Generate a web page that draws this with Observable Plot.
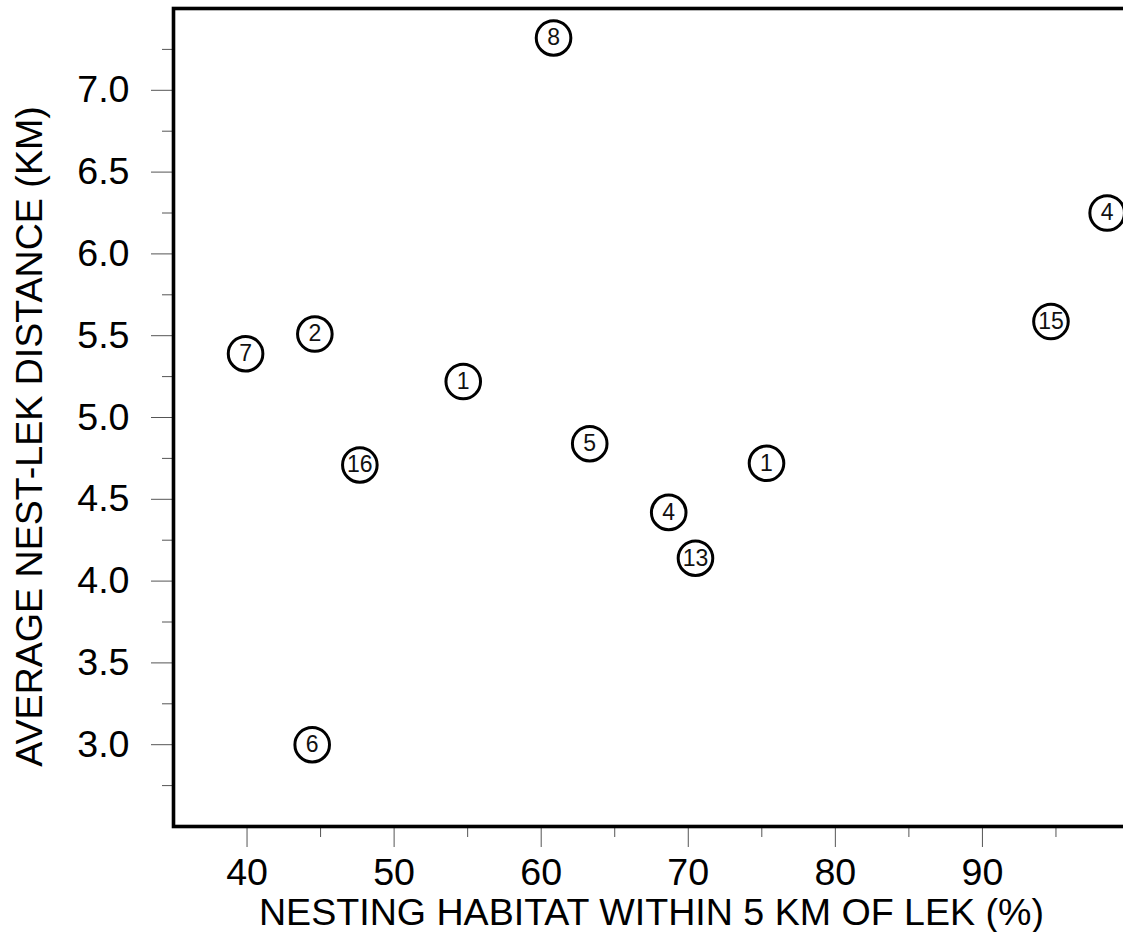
<!DOCTYPE html>
<html>
<head>
<meta charset="utf-8">
<script src="https://cdn.jsdelivr.net/npm/d3@7"></script>
<script src="https://cdn.jsdelivr.net/npm/@observablehq/plot@0.6"></script>
<style>
html, body { margin: 0; padding: 0; background: #fff; overflow: hidden; }
#chart { width: 1123px; height: 932px; overflow: hidden; }
#chart svg { max-width: none !important; }
</style>
</head>
<body>
<div id="chart"></div>
<script>
// Data
const habitat  = [60.84, 98.48, 94.66, 39.9, 44.61, 47.67, 54.7, 63.3, 75.32, 68.67, 70.49, 44.43];
const distance = [7.32, 6.25, 5.587, 5.39, 5.51, 4.71, 5.22, 4.84, 4.72, 4.42, 4.14, 3.0];
const counts   = [8, 4, 15, 7, 2, 16, 1, 5, 1, 4, 13, 6];

const xMajor = [40, 50, 60, 70, 80, 90];
const xMinor = [45, 55, 65, 75, 85, 95];
const yMajor = [3.0, 3.5, 4.0, 4.5, 5.0, 5.5, 6.0, 6.5, 7.0];
const yMinor = [2.75, 3.25, 3.75, 4.25, 4.75, 5.25, 5.75, 6.25, 6.75, 7.25];

const xTitle = "NESTING HABITAT WITHIN 5 KM OF LEK (%)";
const yTitle = "AVERAGE NEST-LEK DISTANCE (KM)";

const data = habitat.map((h, i) => ({habitat: h, distance: distance[i], n: counts[i]}));

const font = "'Liberation Sans', Arial, Helvetica, sans-serif";
const tickColor = "#555";

const chart = Plot.plot({
  width: 1135,
  height: 932,
  marginLeft: 173,
  marginRight: 6,
  marginTop: 8,
  marginBottom: 106,
  style: {fontFamily: font, fontSize: "37.6px", color: "#000", background: "#fff", maxWidth: "none"},
  x: {domain: [35, 100]},
  y: {domain: [2.5, 7.5]},
  marks: [
    Plot.axisX({ticks: xMajor, tickSize: 21, tickPadding: 11, tickFormat: d => String(d), label: null, stroke: tickColor, fontSize: 37.6, fill: "#000"}),
    Plot.axisX({ticks: xMinor, tickSize: 11, tickFormat: () => "", label: null, stroke: tickColor}),
    Plot.axisY({ticks: yMajor, tickSize: 22, tickPadding: 22, tickFormat: d3.format(".1f"), label: null, stroke: tickColor, fontSize: 37.6, fill: "#000"}),
    Plot.axisY({ticks: yMinor, tickSize: 11, tickFormat: () => "", label: null, stroke: tickColor}),
    Plot.dot(data, {x: "habitat", y: "distance", r: 17.3, stroke: "#000", strokeWidth: 3, fill: "#fff"}),
    Plot.text(data, {x: "habitat", y: "distance", text: "n", fontSize: 23, fill: "#111"}),
    Plot.text([xTitle], {frameAnchor: "bottom", lineAnchor: "middle", textAnchor: "middle", dy: 86, fontSize: 37.6, fill: "#000"}),
    Plot.text([yTitle], {frameAnchor: "left", lineAnchor: "middle", textAnchor: "middle", rotate: -90, dx: -144, dy: 19, fontSize: 37.6, fill: "#000"}),
    Plot.frame({stroke: "#000", strokeWidth: 3.6})
  ]
});

document.getElementById("chart").appendChild(chart);
</script>
</body>
</html>
